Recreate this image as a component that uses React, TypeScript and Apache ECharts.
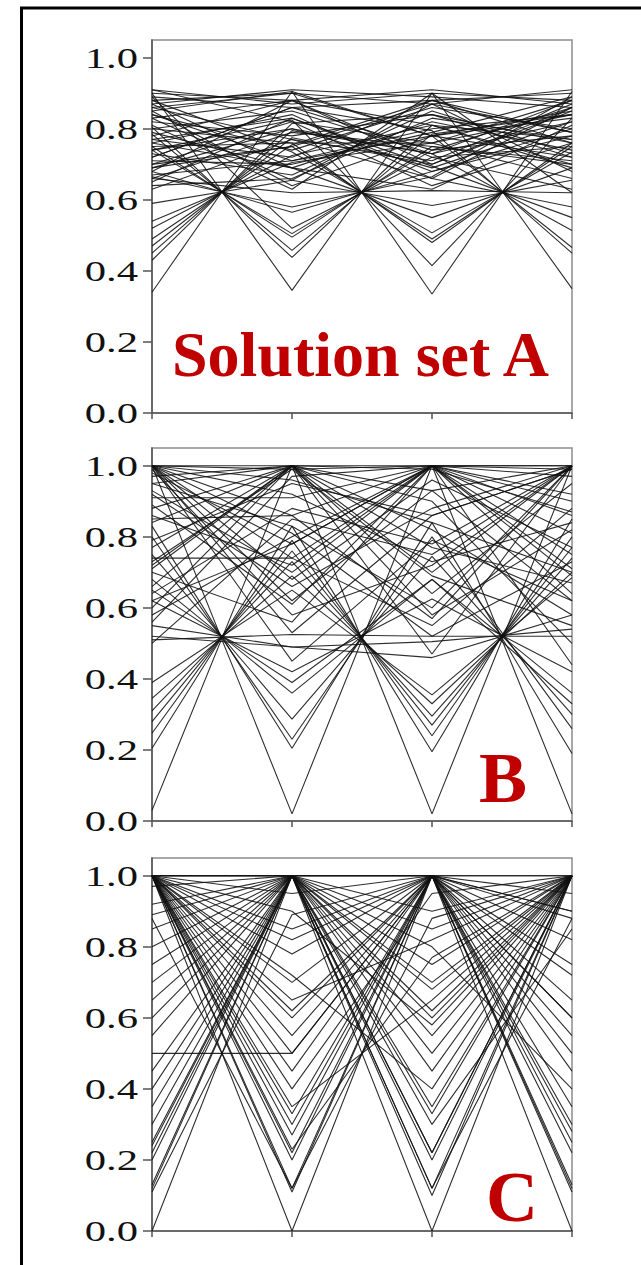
import React, { useEffect, useRef } from "react";
import * as echarts from "echarts";

// Four objectives shown as parallel axes 1..4
const dims = [1, 2, 3, 4];
const yTicks = [0, 0.2, 0.4, 0.6, 0.8, 1.0];
const panelTitles = ["Solution set A", "B", "C"];

// Solution set A: normalised objective values per solution
const setA: number[][] = [
  [0.91, 0.87, 0.90, 0.88],
  [0.87, 0.91, 0.89, 0.86],
  [0.90, 0.88, 0.91, 0.87],
  [0.88, 0.90, 0.87, 0.91],
  [0.89, 0.86, 0.88, 0.90],
  [0.91, 0.82, 0.76, 0.84],
  [0.86, 0.90, 0.78, 0.72],
  [0.84, 0.74, 0.86, 0.80],
  [0.83, 0.88, 0.70, 0.85],
  [0.82, 0.78, 0.84, 0.76],
  [0.80, 0.85, 0.73, 0.88],
  [0.79, 0.69, 0.82, 0.74],
  [0.78, 0.88, 0.81, 0.70],
  [0.77, 0.72, 0.88, 0.79],
  [0.76, 0.84, 0.66, 0.86],
  [0.75, 0.76, 0.76, 0.66],
  [0.74, 0.80, 0.69, 0.82],
  [0.73, 0.67, 0.85, 0.73],
  [0.72, 0.86, 0.74, 0.78],
  [0.71, 0.70, 0.79, 0.89],
  [0.70, 0.82, 0.64, 0.76],
  [0.69, 0.75, 0.87, 0.68],
  [0.68, 0.88, 0.72, 0.63],
  [0.67, 0.71, 0.80, 0.84],
  [0.66, 0.79, 0.75, 0.71],
  [0.65, 0.83, 0.68, 0.80],
  [0.64, 0.66, 0.83, 0.77],
  [0.63, 0.77, 0.71, 0.87],
  [0.85, 0.64, 0.78, 0.83],
  [0.87, 0.69, 0.63, 0.81],
  [0.81, 0.63, 0.90, 0.62],
  [0.34, 0.905, 0.78, 0.85],
  [0.43, 0.815, 0.84, 0.72],
  [0.47, 0.775, 0.70, 0.86],
  [0.49, 0.755, 0.88, 0.76],
  [0.52, 0.725, 0.81, 0.69],
  [0.54, 0.705, 0.76, 0.88],
  [0.59, 0.655, 0.87, 0.79],
  [0.45, 0.795, 0.73, 0.82],
  [0.90, 0.345, 0.90, 0.35],
  [0.805, 0.438, 0.81, 0.77],
  [0.785, 0.458, 0.785, 0.84],
  [0.75, 0.495, 0.75, 0.70],
  [0.74, 0.505, 0.74, 0.86],
  [0.68, 0.565, 0.68, 0.78],
  [0.665, 0.58, 0.665, 0.89],
  [0.89, 0.52, 0.72, 0.75],
  [0.85, 0.905, 0.335, 0.905],
  [0.74, 0.825, 0.415, 0.83],
  [0.80, 0.76, 0.48, 0.76],
  [0.70, 0.75, 0.49, 0.75],
  [0.88, 0.735, 0.507, 0.735],
  [0.76, 0.69, 0.55, 0.69],
  [0.83, 0.655, 0.584, 0.655],
  [0.66, 0.62, 0.626, 0.62],
  [0.72, 0.86, 0.795, 0.45],
  [0.84, 0.71, 0.78, 0.466],
  [0.69, 0.80, 0.73, 0.514],
  [0.77, 0.83, 0.695, 0.55],
  [0.86, 0.77, 0.66, 0.58],
];

// Solution set B
const setB: number[][] = [
  [1.0, 0.02, 1.0, 0.02],
  [0.03, 1.0, 0.02, 1.0],
  [0.83, 0.205, 0.84, 0.19],
  [0.205, 0.83, 0.195, 0.85],
  [0.80, 0.23, 0.80, 0.26],
  [0.247, 0.79, 0.24, 0.80],
  [0.75, 0.287, 0.745, 0.30],
  [0.28, 0.76, 0.27, 0.77],
  [0.68, 0.36, 0.68, 0.33],
  [0.31, 0.73, 0.295, 0.74],
  [0.65, 0.39, 0.68, 0.36],
  [0.345, 0.69, 0.33, 0.70],
  [0.62, 0.42, 0.625, 0.42],
  [0.39, 0.65, 0.355, 0.685],
  [0.52, 0.49, 0.505, 0.54],
  [0.51, 0.525, 0.52, 0.52],
  [0.55, 0.49, 0.46, 0.58],
  [1.0, 1.0, 1.0, 1.0],
  [1.0, 0.99, 1.0, 1.0],
  [1.0, 0.62, 0.93, 1.0],
  [1.0, 0.74, 0.55, 0.88],
  [1.0, 0.86, 1.0, 0.71],
  [1.0, 0.45, 0.79, 0.62],
  [0.97, 1.0, 0.64, 0.95],
  [0.95, 1.0, 0.82, 0.58],
  [0.91, 0.91, 1.0, 0.75],
  [0.88, 1.0, 0.70, 1.0],
  [0.85, 0.86, 0.57, 1.0],
  [0.74, 0.74, 1.0, 0.81],
  [0.72, 1.0, 0.77, 0.67],
  [0.70, 0.56, 1.0, 0.92],
  [0.92, 0.66, 0.88, 1.0],
  [0.60, 1.0, 0.90, 0.50],
  [0.58, 0.80, 1.0, 0.69],
  [0.77, 1.0, 0.47, 1.0],
  [0.86, 0.72, 1.0, 0.44],
  [1.0, 0.92, 0.73, 0.84],
  [0.66, 1.0, 0.99, 0.87],
  [0.98, 0.78, 1.0, 0.64],
  [0.79, 0.95, 0.86, 0.99],
  [1.0, 0.68, 0.96, 0.77],
  [0.89, 0.61, 1.0, 0.97],
  [0.95, 0.83, 0.60, 1.0],
  [0.64, 0.88, 0.78, 1.0],
  [1.0, 0.81, 0.52, 0.73],
  [0.56, 0.97, 1.0, 0.90],
  [0.73, 0.99, 0.69, 0.55],
  [1.0, 0.53, 0.86, 0.99],
  [0.84, 1.0, 0.93, 0.62],
  [0.50, 0.85, 0.75, 1.0],
  [0.93, 0.70, 1.0, 0.86],
  [1.0, 0.96, 0.84, 0.70],
  [0.62, 0.78, 1.0, 0.99],
  [0.99, 0.58, 0.72, 1.0],
  [0.71, 1.0, 0.58, 0.82],
];

// Solution set C
const setC: number[][] = [
  [1.0, 1.0, 1.0, 1.0],
  [1.0, 0.0, 1.0, 0.0],
  [0.0, 1.0, 0.0, 1.0],
  [1.0, 0.11, 1.0, 0.12],
  [0.12, 1.0, 0.10, 1.0],
  [1.0, 0.12, 0.88, 1.0],
  [0.11, 0.89, 1.0, 0.11],
  [1.0, 0.2, 1.0, 0.22],
  [0.2, 1.0, 0.2, 1.0],
  [1.0, 0.22, 1.0, 0.25],
  [0.22, 1.0, 0.22, 1.0],
  [1.0, 0.23, 0.77, 1.0],
  [0.24, 1.0, 0.3, 0.85],
  [1.0, 0.3, 1.0, 0.3],
  [0.3, 1.0, 0.33, 1.0],
  [1.0, 0.33, 1.0, 0.45],
  [0.75, 1.0, 0.35, 1.0],
  [1.0, 0.35, 0.65, 1.0],
  [0.5, 0.5, 1.0, 0.6],
  [1.0, 0.45, 1.0, 0.13],
  [0.6, 1.0, 0.45, 1.0],
  [0.89, 1.0, 0.12, 1.0],
  [0.88, 0.12, 1.0, 0.88],
  [0.97, 1.0, 1.0, 0.9],
  [1.0, 0.78, 1.0, 0.72],
  [0.8, 1.0, 0.68, 1.0],
  [1.0, 0.62, 1.0, 0.55],
  [0.7, 1.0, 0.9, 1.0],
  [1.0, 0.9, 0.58, 1.0],
  [1.0, 1.0, 0.8, 0.4],
  [0.13, 1.0, 1.0, 0.75],
  [1.0, 0.55, 1.0, 0.82],
  [0.65, 1.0, 0.6, 1.0],
  [1.0, 0.7, 1.0, 0.35],
  [1.0, 1.0, 0.5, 1.0],
  [0.45, 1.0, 0.75, 1.0],
  [1.0, 0.85, 1.0, 0.65],
  [0.55, 1.0, 1.0, 0.5],
  [1.0, 0.4, 0.95, 1.0],
  [1.0, 0.65, 0.82, 1.0],
  [0.85, 1.0, 0.22, 1.0],
  [1.0, 0.95, 1.0, 0.95],
  [0.35, 1.0, 0.62, 1.0],
  [1.0, 0.27, 1.0, 0.6],
  [1.0, 0.72, 0.4, 1.0],
  [0.25, 1.0, 0.85, 1.0],
  [1.0, 0.5, 1.0, 0.28],
  [0.92, 1.0, 0.55, 1.0],
  [1.0, 0.82, 1.0, 0.9],
  [0.4, 1.0, 0.12, 0.88],
  [1.0, 1.0, 0.7, 1.0],
  [1.0, 0.6, 1.0, 1.0],
];

const panels = [setA, setB, setC];

const GRID_TOPS = [40, 448, 858];
const GRID_HEIGHT = 373;
const AXIS_COLOR = "#555";
const TITLE_COLOR = "#c00000";

export default function App() {
  const ref = useRef<HTMLDivElement>(null);

  useEffect(() => {
    if (!ref.current) return;
    const chart = echarts.init(ref.current, null, { renderer: "svg" });

    const grid = GRID_TOPS.map((top) => ({
      left: 152,
      right: 69,
      top,
      height: GRID_HEIGHT,
      show: true,
      borderColor: "#8c8c8c",
      borderWidth: 1.5,
      backgroundColor: "transparent",
    }));

    const xAxis = panels.map((_, p) => ({
      gridIndex: p,
      type: "value",
      min: 1,
      max: 4,
      interval: 1,
      axisLine: { show: true, onZero: false, lineStyle: { color: AXIS_COLOR, width: 1.5 } },
      axisTick: { show: true, length: 6, lineStyle: { color: AXIS_COLOR, width: 1.5 } },
      axisLabel: { show: false },
      splitLine: { show: false },
    }));

    const yAxis = panels.map((_, p) => ({
      gridIndex: p,
      type: "value",
      min: 0,
      max: 1.05,
      axisLine: { show: true, onZero: false, lineStyle: { color: AXIS_COLOR, width: 1.5 } },
      axisTick: {
        show: true,
        length: 9,
        customValues: yTicks,
        lineStyle: { color: AXIS_COLOR, width: 1.5 },
      },
      axisLabel: { show: false },
      splitLine: { show: false },
    }));

    const series: any[] = [];
    panels.forEach((rows, p) => {
      rows.forEach((row) => {
        series.push({
          type: "line",
          xAxisIndex: p,
          yAxisIndex: p,
          data: dims.map((d, i) => [d, row[i]]),
          symbol: "none",
          silent: true,
          lineStyle: { color: "#111", width: 1.1, opacity: 0.88 },
          z: 2,
        });
      });
    });

    chart.setOption({
      animation: false,
      backgroundColor: "#fff",
      grid,
      xAxis,
      yAxis,
      series,
    });

    // Tick labels, placed with the axes' own scales
    const graphic: any[] = [];
    panels.forEach((_, p) => {
      yTicks.forEach((t) => {
        const pt = chart.convertToPixel({ gridIndex: p }, [1, t]) as number[];
        graphic.push({
          type: "text",
          x: pt[0] - 14,
          y: pt[1],
          scaleX: 1.42,
          silent: true,
          style: {
            text: t.toFixed(1),
            font: '30px "Liberation Serif"',
            fill: "#111",
            align: "right",
            textAlign: "right",
            verticalAlign: "middle",
            textVerticalAlign: "middle",
          },
        });
      });
    });

    const titlePos = [
      { x: 172, y: 354, size: 64 },
      { x: 479, y: 778, size: 72 },
      { x: 486, y: 1197, size: 72 },
    ];
    panelTitles.forEach((title, p) => {
      graphic.push({
        type: "text",
        x: titlePos[p].x,
        y: titlePos[p].y,
        silent: true,
        z: 20,
        style: {
          text: title,
          font: `bold ${titlePos[p].size}px "Liberation Serif"`,
          fill: TITLE_COLOR,
          align: "left",
          textAlign: "left",
          verticalAlign: "middle",
          textVerticalAlign: "middle",
        },
      });
    });

    // Outer frame
    graphic.push({
      type: "rect",
      silent: true,
      z: 30,
      shape: { x: 21.5, y: 8, width: 700, height: 1400 },
      style: { fill: "none", stroke: "#000", lineWidth: 3 },
    });

    chart.setOption({ graphic });

    return () => chart.dispose();
  }, []);

  return (
    <div
      ref={ref}
      style={{ position: "fixed", left: 0, top: 0, width: 641, height: 1265, background: "#fff" }}
    />
  );
}
